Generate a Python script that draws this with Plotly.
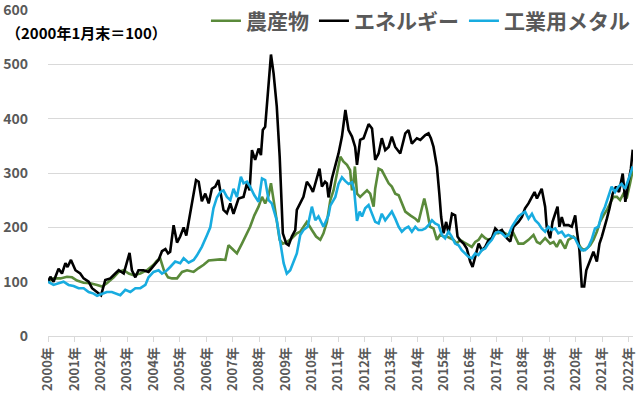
import plotly.graph_objects as go

# ---- data (2000年1月末=100), x in fractional years ----
years = list(range(2000, 2023))
year_labels = [f"{y}年" for y in years]

series_names = ["農産物", "エネルギー", "工業用メタル"]

agri_t = [2000.00, 2000.21, 2000.47, 2000.72, 2000.91, 2001.10, 2001.35, 2001.60, 2001.86, 2002.05,
          2002.23, 2002.49, 2002.68, 2002.87, 2003.06, 2003.24, 2003.50, 2003.75, 2004.00, 2004.12,
          2004.25, 2004.40, 2004.55, 2004.70, 2004.89, 2005.08, 2005.27, 2005.52, 2005.71, 2005.90,
          2006.09, 2006.27, 2006.53, 2006.72, 2006.84, 2006.97, 2007.16, 2007.35, 2007.47, 2007.66,
          2007.82, 2007.98, 2008.11, 2008.23, 2008.36, 2008.45, 2008.55, 2008.65, 2008.78, 2008.90,
          2009.05, 2009.24, 2009.43, 2009.56, 2009.68, 2009.81, 2010.00, 2010.16, 2010.32, 2010.44,
          2010.57, 2010.70, 2010.82, 2010.95, 2011.08, 2011.20, 2011.33, 2011.45, 2011.52, 2011.58,
          2011.63, 2011.71, 2011.83, 2011.96, 2012.09, 2012.21, 2012.34, 2012.40, 2012.53, 2012.65,
          2012.78, 2012.91, 2013.03, 2013.16, 2013.29, 2013.41, 2013.54, 2013.73, 2013.92, 2014.04,
          2014.17, 2014.26, 2014.36, 2014.48, 2014.61, 2014.74, 2014.86, 2014.99, 2015.12, 2015.24,
          2015.37, 2015.49, 2015.62, 2015.75, 2015.87, 2016.06, 2016.19, 2016.32, 2016.44, 2016.57,
          2016.69, 2016.82, 2016.95, 2017.07, 2017.20, 2017.33, 2017.52, 2017.64, 2017.83, 2018.02,
          2018.21, 2018.40, 2018.53, 2018.65, 2018.84, 2019.03, 2019.16, 2019.28, 2019.41, 2019.60,
          2019.72, 2019.91, 2020.04, 2020.17, 2020.29, 2020.42, 2020.55, 2020.67, 2020.80, 2020.92,
          2021.05, 2021.18, 2021.30, 2021.43, 2021.56, 2021.68, 2021.81, 2021.93, 2022.06, 2022.16]
agri_v = [100, 106, 106, 109, 108, 102, 98, 97, 94, 91,
          97, 108, 118, 121, 115, 112, 115, 121, 131, 138,
          143, 120, 108, 106, 106, 118, 121, 118, 125, 131,
          139, 140, 141, 140, 167, 161, 152, 170, 183, 201,
          222, 238, 256, 244, 259, 281, 250, 220, 177, 170,
          173, 180, 189, 192, 201, 210, 195, 183, 177, 189,
          210, 250, 268, 299, 330, 321, 315, 305, 268, 284,
          312, 262, 256, 262, 268, 262, 238, 271, 308, 305,
          293, 281, 275, 262, 259, 244, 229, 222, 216, 210,
          238, 253, 232, 201, 198, 177, 186, 183, 183, 180,
          177, 170, 177, 173, 170, 164, 173, 177, 186, 180,
          177, 180, 189, 189, 192, 189, 183, 189, 170, 170,
          177, 186, 173, 170, 180, 170, 173, 164, 177, 161,
          177, 183, 177, 164, 158, 161, 167, 177, 192, 210,
          222, 232, 244, 256, 256, 250, 262, 253, 281, 305]

energy_t = [2000.00, 2000.09, 2000.21, 2000.40, 2000.53, 2000.66, 2000.74, 2000.87, 2001.04, 2001.22,
            2001.35, 2001.54, 2001.67, 2001.86, 2002.01, 2002.17, 2002.36, 2002.55, 2002.68, 2002.87,
            2003.09, 2003.18, 2003.31, 2003.43, 2003.62, 2003.81, 2004.00, 2004.19, 2004.32, 2004.45,
            2004.55, 2004.63, 2004.76, 2004.89, 2005.01, 2005.14, 2005.24, 2005.33, 2005.45, 2005.61,
            2005.71, 2005.83, 2005.96, 2006.09, 2006.21, 2006.34, 2006.46, 2006.55, 2006.65, 2006.78,
            2006.91, 2007.03, 2007.22, 2007.41, 2007.54, 2007.64, 2007.73, 2007.85, 2007.98, 2008.07,
            2008.14, 2008.23, 2008.32, 2008.45, 2008.55, 2008.67, 2008.78, 2008.90, 2009.03, 2009.12,
            2009.24, 2009.37, 2009.43, 2009.56, 2009.68, 2009.81, 2009.94, 2010.04, 2010.16, 2010.29,
            2010.38, 2010.50, 2010.57, 2010.63, 2010.76, 2010.89, 2011.01, 2011.14, 2011.27, 2011.39,
            2011.52, 2011.64, 2011.71, 2011.83, 2011.96, 2012.15, 2012.28, 2012.40, 2012.53, 2012.65,
            2012.78, 2012.91, 2013.03, 2013.16, 2013.35, 2013.54, 2013.66, 2013.79, 2013.98, 2014.11,
            2014.30, 2014.42, 2014.51, 2014.61, 2014.74, 2014.83, 2014.90, 2014.99, 2015.09, 2015.18,
            2015.31, 2015.43, 2015.52, 2015.62, 2015.75, 2015.87, 2016.00, 2016.09, 2016.19, 2016.32,
            2016.44, 2016.57, 2016.69, 2016.82, 2016.95, 2017.07, 2017.20, 2017.39, 2017.52, 2017.64,
            2017.83, 2017.96, 2018.08, 2018.21, 2018.34, 2018.44, 2018.53, 2018.63, 2018.71, 2018.84,
            2018.90, 2019.03, 2019.12, 2019.22, 2019.31, 2019.38, 2019.47, 2019.56, 2019.72, 2019.85,
            2019.98, 2020.04, 2020.14, 2020.23, 2020.32, 2020.40, 2020.55, 2020.67, 2020.80, 2020.90,
            2020.99, 2021.08, 2021.18, 2021.28, 2021.40, 2021.53, 2021.64, 2021.78, 2021.88, 2022.00,
            2022.09, 2022.16]
energy_v = [100, 109, 100, 124, 115, 134, 127, 140, 121, 115,
            106, 100, 88, 81, 75, 103, 106, 115, 121, 115,
            153, 121, 108, 121, 121, 118, 130, 140, 156, 160,
            152, 155, 204, 172, 183, 200, 185, 210, 250, 287,
            284, 248, 262, 244, 271, 275, 287, 262, 232, 226,
            244, 225, 253, 256, 281, 268, 342, 324, 345, 333,
            379, 385, 434, 518, 483, 422, 330, 189, 170, 167,
            183, 195, 232, 244, 256, 284, 275, 265, 287, 308,
            275, 284, 281, 255, 290, 315, 336, 367, 416, 379,
            367, 348, 315, 361, 364, 390, 382, 324, 336, 364,
            342, 348, 367, 348, 336, 373, 379, 354, 364, 361,
            370, 373, 364, 348, 311, 262, 219, 189, 210, 189,
            225, 222, 183, 176, 170, 161, 137, 127, 146, 170,
            158, 164, 176, 180, 198, 192, 195, 180, 174, 201,
            210, 219, 235, 244, 256, 265, 253, 262, 271, 238,
            201, 180, 210, 225, 238, 201, 219, 204, 204, 201,
            222, 195, 158, 91, 91, 121, 140, 155, 137, 170,
            183, 201, 216, 235, 262, 275, 265, 299, 247, 284,
            308, 343]

metal_t = [2000.00, 2000.21, 2000.40, 2000.59, 2000.78, 2000.97, 2001.16, 2001.35, 2001.54, 2001.73,
           2001.86, 2002.05, 2002.23, 2002.42, 2002.61, 2002.74, 2002.93, 2003.12, 2003.31, 2003.50,
           2003.69, 2003.81, 2004.00, 2004.19, 2004.32, 2004.51, 2004.63, 2004.82, 2005.01, 2005.14,
           2005.33, 2005.52, 2005.64, 2005.83, 2006.02, 2006.15, 2006.27, 2006.40, 2006.53, 2006.65,
           2006.78, 2006.91, 2007.03, 2007.16, 2007.31, 2007.41, 2007.54, 2007.66, 2007.82, 2007.98,
           2008.11, 2008.23, 2008.36, 2008.48, 2008.67, 2008.80, 2008.93, 2009.05, 2009.18, 2009.31,
           2009.43, 2009.56, 2009.68, 2009.84, 2010.00, 2010.13, 2010.25, 2010.44, 2010.63, 2010.70,
           2010.89, 2011.01, 2011.14, 2011.27, 2011.39, 2011.52, 2011.60, 2011.71, 2011.81, 2011.90,
           2012.02, 2012.15, 2012.28, 2012.40, 2012.53, 2012.65, 2012.78, 2012.91, 2013.03, 2013.16,
           2013.29, 2013.41, 2013.54, 2013.66, 2013.79, 2013.92, 2014.04, 2014.17, 2014.30, 2014.42,
           2014.55, 2014.67, 2014.80, 2014.93, 2015.05, 2015.18, 2015.30, 2015.43, 2015.56, 2015.68,
           2015.81, 2015.93, 2016.06, 2016.19, 2016.31, 2016.44, 2016.57, 2016.69, 2016.82, 2016.95,
           2017.07, 2017.20, 2017.33, 2017.45, 2017.58, 2017.71, 2017.83, 2017.96, 2018.08, 2018.21,
           2018.34, 2018.46, 2018.59, 2018.71, 2018.84, 2018.96, 2019.09, 2019.22, 2019.34, 2019.47,
           2019.60, 2019.72, 2019.85, 2019.97, 2020.10, 2020.23, 2020.35, 2020.48, 2020.60, 2020.73,
           2020.86, 2020.99, 2021.11, 2021.24, 2021.36, 2021.49, 2021.62, 2021.74, 2021.87, 2021.99,
           2022.12, 2022.16]
metal_v = [100, 94, 97, 100, 94, 92, 88, 88, 81, 78,
           74, 78, 81, 81, 78, 75, 85, 81, 88, 88,
           94, 108, 118, 121, 115, 121, 127, 137, 134, 143,
           135, 140, 148, 164, 185, 200, 235, 255, 265, 268,
           256, 250, 271, 256, 293, 281, 284, 275, 259, 247,
           290, 287, 250, 244, 213, 177, 134, 115, 121, 137,
           152, 186, 195, 201, 238, 213, 220, 201, 222, 240,
           256, 280, 292, 285, 280, 283, 270, 212, 229, 220,
           235, 241, 225, 210, 207, 225, 213, 222, 229, 216,
           201, 192, 198, 201, 192, 201, 195, 195, 198, 204,
           213, 207, 204, 186, 180, 192, 183, 170, 167, 158,
           152, 146, 143, 152, 149, 158, 161, 170, 177, 189,
           192, 189, 183, 186, 201, 210, 220, 225, 229, 216,
           225, 213, 207, 198, 192, 201, 195, 198, 189, 192,
           183, 186, 183, 180, 167, 158, 158, 164, 177, 198,
           201, 225, 238, 256, 275, 265, 275, 280, 271, 287,
           305, 312]

colors = ["#5A8A3A", "#000000", "#18ACE0"]

FONT = "Noto Sans CJK JP"
GRAY = "#595959"
GRID = "#d9d9d9"

fig = go.Figure()
for name, t, v, c in zip(series_names, [agri_t, energy_t, metal_t],
                         [agri_v, energy_v, metal_v], colors):
    fig.add_trace(go.Scatter(x=t, y=v, name=name, mode="lines",
                             line=dict(color=c, width=2.6)))

fig.update_layout(
    width=640, height=396,
    margin=dict(l=48, r=7, t=10, b=60, autoexpand=False),
    paper_bgcolor="white", plot_bgcolor="white",
    font=dict(family=FONT, color=GRAY),
    showlegend=True,
    legend=dict(orientation="h", x=0.27, y=0.966, xanchor="left", yanchor="middle",
                font=dict(family=FONT, size=21, color=GRAY, weight="bold"),
                itemwidth=30, bgcolor="rgba(0,0,0,0)", traceorder="normal"),
    annotations=[dict(text="（2000年1月末＝100）", xref="paper", yref="paper",
                      x=-0.075, y=0.932, xanchor="left", yanchor="middle", showarrow=False,
                      font=dict(family=FONT, size=15, color="#000000", weight="bold"))],
)
fig.update_xaxes(range=[2000, 2022.17], tickmode="array", tickvals=years, ticktext=year_labels,
                 tickangle=-90, ticks="outside", ticklen=5, tickcolor=GRID, automargin=False,
                 ticklabeloverflow="allow",
                 showline=True, linecolor=GRID, linewidth=1, showgrid=False, zeroline=False,
                 tickfont=dict(family=FONT, size=13, color=GRAY, weight="bold"))
fig.update_yaxes(range=[0, 600], dtick=100, showgrid=True, gridcolor=GRID, gridwidth=1,
                 zeroline=False, showline=False, ticklabelstandoff=19, automargin=False,
                 ticklabeloverflow="allow",
                 tickfont=dict(family=FONT, size=14, color=GRAY, weight="bold"))

fig.write_html("out.html", config={"displayModeBar": False},
               post_script="document.body.style.margin='0';document.body.style.overflow='hidden';")
